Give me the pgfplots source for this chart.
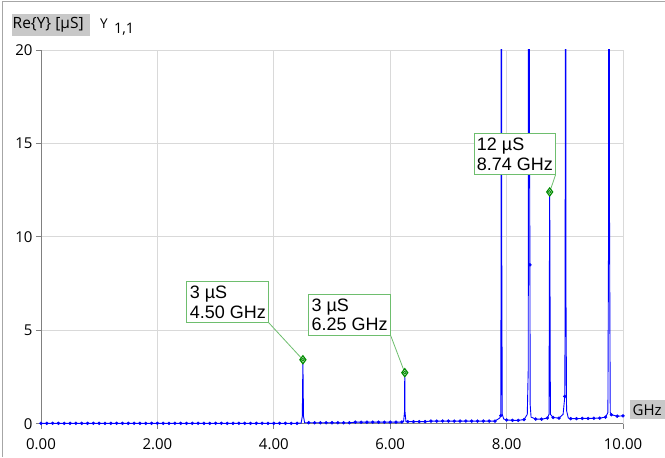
\documentclass[border=0pt]{standalone}
\usepackage{fontspec}
\setmainfont{Open Sans}
\newfontfamily\annfont{Liberation Sans}
\usepackage{pgfplots}
\pgfplotsset{compat=1.18}
\usepackage{pgfplotstable}

\definecolor{traceblue}{RGB}{0,0,255}
\definecolor{boxgray}{RGB}{200,200,200}
\definecolor{mkgreen}{RGB}{0,140,0}
\definecolor{annline}{RGB}{110,190,110}

% full trace: coarse sweep points plus the narrow resonances
\pgfplotstableread{
f g
0.0 0.02
0.1 0.02
0.2 0.02
0.3 0.02
0.4 0.02
0.5 0.02
0.6 0.02
0.7 0.02
0.8 0.02
0.9 0.02
1.0 0.02
1.1 0.02
1.2 0.02
1.3 0.02
1.4 0.02
1.5 0.02
1.6 0.02
1.7 0.02
1.8 0.02
1.9 0.02
2.0 0.02
2.1 0.02
2.2 0.02
2.3 0.02
2.4 0.02
2.5 0.02
2.6 0.02
2.7 0.02
2.8 0.02
2.9 0.02
3.0 0.02
3.1 0.02
3.2 0.02
3.3 0.02
3.4 0.02
3.5 0.02
3.6 0.02
3.7 0.02
3.8 0.02
3.9 0.02
4.0 0.02
4.1 0.02
4.2 0.02
4.3 0.02
4.4 0.02
4.47 0.03
4.49 0.4
4.50 3.42
4.51 0.4
4.53 0.05
4.6 0.05
4.7 0.05
4.8 0.05
4.9 0.05
5.0 0.05
5.1 0.05
5.2 0.05
5.3 0.05
5.4 0.08
5.5 0.08
5.6 0.08
5.7 0.08
5.8 0.08
5.9 0.08
6.0 0.08
6.1 0.08
6.2 0.09
6.23 0.12
6.245 0.6
6.25 2.73
6.255 0.6
6.27 0.12
6.3 0.11
6.4 0.11
6.5 0.11
6.6 0.11
6.7 0.14
6.8 0.14
6.9 0.14
7.0 0.14
7.1 0.14
7.2 0.14
7.3 0.14
7.4 0.14
7.5 0.14
7.6 0.14
7.7 0.14
7.8 0.14
7.88 0.3
7.9 0.43
7.905 10.6
7.91 80
7.915 10.6
7.925 0.5
7.95 0.25
8.0 0.2
8.1 0.18
8.2 0.18
8.3 0.22
8.355 0.5
8.372 3
8.38 80
8.39 20
8.40 8.5
8.405 1.0
8.42 0.35
8.5 0.25
8.6 0.24
8.7 0.3
8.728 0.5
8.736 9
8.74 12.4
8.744 9
8.752 0.5
8.8 0.33
8.9 0.3
8.97 0.5
9.0 1.46
9.006 8
9.012 80
9.018 8
9.03 0.7
9.06 0.3
9.1 0.27
9.2 0.27
9.3 0.28
9.4 0.28
9.5 0.29
9.6 0.3
9.7 0.35
9.74 0.6
9.752 11
9.76 80
9.768 11
9.78 0.6
9.8 0.48
9.9 0.4
10.0 0.42
}\tracedata

% sweep points that carry a dot marker
\pgfplotstableread{
f g
0.0 0.02
0.1 0.02
0.2 0.02
0.3 0.02
0.4 0.02
0.5 0.02
0.6 0.02
0.7 0.02
0.8 0.02
0.9 0.02
1.0 0.02
1.1 0.02
1.2 0.02
1.3 0.02
1.4 0.02
1.5 0.02
1.6 0.02
1.7 0.02
1.8 0.02
1.9 0.02
2.0 0.02
2.1 0.02
2.2 0.02
2.3 0.02
2.4 0.02
2.5 0.02
2.6 0.02
2.7 0.02
2.8 0.02
2.9 0.02
3.0 0.02
3.1 0.02
3.2 0.02
3.3 0.02
3.4 0.02
3.5 0.02
3.6 0.02
3.7 0.02
3.8 0.02
3.9 0.02
4.0 0.02
4.1 0.02
4.2 0.02
4.3 0.02
4.4 0.02
4.6 0.05
4.7 0.05
4.8 0.05
4.9 0.05
5.0 0.05
5.1 0.05
5.2 0.05
5.3 0.05
5.4 0.08
5.5 0.08
5.6 0.08
5.7 0.08
5.8 0.08
5.9 0.08
6.0 0.08
6.1 0.08
6.2 0.09
6.3 0.11
6.4 0.11
6.5 0.11
6.6 0.11
6.7 0.14
6.8 0.14
6.9 0.14
7.0 0.14
7.1 0.14
7.2 0.14
7.3 0.14
7.4 0.14
7.5 0.14
7.6 0.14
7.7 0.14
7.8 0.14
7.9 0.43
8.0 0.2
8.1 0.18
8.2 0.18
8.3 0.22
8.40 8.5
8.5 0.25
8.6 0.24
8.7 0.3
8.8 0.33
8.9 0.3
9.0 1.46
9.1 0.27
9.2 0.27
9.3 0.28
9.4 0.28
9.5 0.29
9.6 0.3
9.7 0.35
9.8 0.48
9.9 0.4
10.0 0.42
}\dotdata

\begin{document}
\begin{tikzpicture}
\fill[white] (0bp,0bp) rectangle (665bp,457bp);
\draw[black!35, line width=1bp] (2.7bp,0bp) -- (2.7bp,455.3bp) -- (665bp,455.3bp);
% unit boxes
\fill[boxgray] (11.7bp,421bp) rectangle (90bp,443bp);
\node[anchor=west, inner sep=0pt, font=\fontsize{15.5bp}{18bp}\selectfont] at (12.5bp,432bp) {Re\{Y\} [µS]};
\node[anchor=base west, inner sep=0pt, font=\fontsize{13.5bp}{16bp}\selectfont] at (100bp,428.7bp) {Y};
\node[anchor=base west, inner sep=0pt, font=\fontsize{14.5bp}{16bp}\selectfont] at (114bp,423bp) {1,1};
\fill[boxgray] (630bp,37.7bp) rectangle (665bp,56.3bp);
\node[anchor=west, inner sep=0pt, font=\fontsize{15bp}{18bp}\selectfont] at (633bp,47bp) {GHz};

\begin{axis}[
    at={(41bp,33bp)}, anchor=south west,
    scale only axis, width=582.5bp, height=374bp,
    xmin=0, xmax=10, ymin=0, ymax=20,
    axis lines=left,
    axis line style={-, draw=black!50, line width=0.9bp},
    xtick={0,2,...,10}, ytick={0,5,...,20},
    tick align=outside, major tick length=5bp,
    tick style={draw=black!50, line width=0.9bp},
    grid=major, grid style={draw=black!15, line width=0.9bp},
    /pgf/number format/assume math mode=true,
    ticklabel style={font=\fontsize{15bp}{18bp}\selectfont},
    xticklabel style={yshift=-6bp},
    xticklabel={\pgfmathprintnumber[fixed, fixed zerofill, precision=2]{\tick}},
    yticklabel={\pgfmathprintnumber[fixed, precision=0]{\tick}},
]
\addplot[traceblue, line width=0.9bp] table[x=f, y=g] {\tracedata};
\addplot[only marks, mark=*, mark size=1.5bp, traceblue] table[x=f, y=g] {\dotdata};

% marker annotations
\draw[annline, line width=0.8bp] (axis cs:3.914,5.40) -- (axis cs:4.50,3.42);
\draw[annline, line width=0.8bp] (axis cs:6.009,4.71) -- (axis cs:6.25,2.73);
\draw[annline, line width=0.8bp] (axis cs:8.841,13.32) -- (axis cs:8.74,12.4);
\addplot[only marks, mark=diamond*, mark size=4bp,
    mark options={draw=mkgreen, fill=white, line width=1.2bp}]
    coordinates {(4.50,3.42) (6.25,2.73) (8.74,12.4)};
\addplot[only marks, mark=o, mark size=1.4bp,
    mark options={draw=mkgreen, line width=0.8bp}]
    coordinates {(4.50,3.42) (6.25,2.73) (8.74,12.4)};

\tikzset{annbox/.style={draw=annline, fill=white, line width=0.9bp, align=left,
    inner sep=2.5bp, minimum width=82bp, minimum height=41bp,
    font=\annfont\fontsize{18bp}{19.5bp}\selectfont}}
\node[annbox] at (axis cs:3.21,6.50) {3 µS\\4.50 GHz};
\node[annbox] at (axis cs:5.303,5.82) {3 µS\\6.25 GHz};
\node[annbox] at (axis cs:8.143,14.42) {12 µS\\8.74 GHz};
\end{axis}
\end{tikzpicture}
\end{document}
